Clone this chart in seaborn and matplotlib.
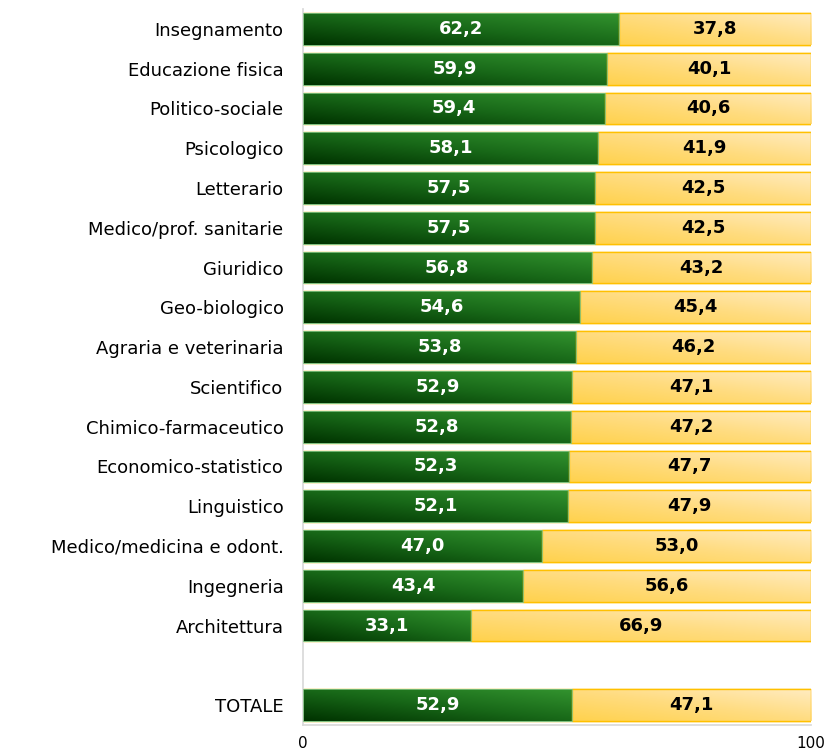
import numpy as np
import pandas as pd
import matplotlib
matplotlib.use("Agg")
import matplotlib.pyplot as plt
import seaborn as sns
from matplotlib.colors import LinearSegmentedColormap

categories = ["Insegnamento", "Educazione fisica", "Politico-sociale", "Psicologico",
              "Letterario", "Medico/prof. sanitarie", "Giuridico", "Geo-biologico",
              "Agraria e veterinaria", "Scientifico", "Chimico-farmaceutico",
              "Economico-statistico", "Linguistico", "Medico/medicina e odont.",
              "Ingegneria", "Architettura", " ", "TOTALE"]
green_vals = [62.2, 59.9, 59.4, 58.1, 57.5, 57.5, 56.8, 54.6, 53.8, 52.9, 52.8,
              52.3, 52.1, 47.0, 43.4, 33.1, np.nan, 52.9]
yellow_vals = [37.8, 40.1, 40.6, 41.9, 42.5, 42.5, 43.2, 45.4, 46.2, 47.1, 47.2,
               47.7, 47.9, 53.0, 56.6, 66.9, np.nan, 47.1]
x_ticks = [0, 100]

df = pd.DataFrame({"cat": categories, "green": green_vals, "yellow": yellow_vals})
df["total"] = df["green"] + df["yellow"]

sns.set_theme(style="white")
plt.rcParams["font.family"] = ["DejaVu Sans"]

fig = plt.figure(figsize=(8.3, 7.53), dpi=100)
ax = fig.add_axes([303/830, 1-725/753, (811-303)/830, (725-9)/753])

sns.barplot(data=df, y="cat", x="total", order=categories, color="#ffd966",
            width=0.8, ax=ax, orient="h", edgecolor="#ffc000", linewidth=1.0)
n_y = len(ax.patches)
sns.barplot(data=df, y="cat", x="green", order=categories, color="#1e6b1e",
            width=0.8, ax=ax, orient="h", edgecolor="#8fcc8f", linewidth=0.8)

green_cmap = LinearSegmentedColormap.from_list("g", ["#003300", "#186818", "#32922e"])
yellow_cmap = LinearSegmentedColormap.from_list("y", ["#ffd24e", "#ffdc80", "#ffebbf"])

def diag_grad(nx=60, ny=20):
    xx, yy = np.meshgrid(np.linspace(0, 1, nx), np.linspace(0, 1, ny))
    return 0.5 * xx + 0.5 * (1 - yy)

patches = list(ax.patches)
yel_patches = patches[:n_y]
grn_patches = patches[n_y:]
for i, (py, pg) in enumerate(zip(yel_patches, grn_patches)):
    w = py.get_width()
    if not np.isfinite(w) or w == 0:
        continue
    y0 = py.get_y(); h = py.get_height()
    gw = pg.get_width()
    im = ax.imshow(diag_grad(), cmap=yellow_cmap, aspect="auto",
                   extent=(gw, w, y0 + h, y0), origin="upper", zorder=py.get_zorder() + 0.1,
                   interpolation="bilinear")
    im.set_clip_path(py)
    im2 = ax.imshow(diag_grad(), cmap=green_cmap, aspect="auto",
                    extent=(0, gw, y0 + h, y0), origin="upper", zorder=pg.get_zorder() + 0.1,
                    interpolation="bilinear")
    im2.set_clip_path(pg)

for i, (py, pg) in enumerate(zip(yel_patches, grn_patches)):
    w = py.get_width()
    if not np.isfinite(w) or w == 0:
        continue
    y0 = py.get_y(); h = py.get_height()
    gw = pg.get_width()
    ax.add_patch(plt.Rectangle((gw, y0), w - gw, h, fill=False, edgecolor="#ffc000",
                               linewidth=1.0, zorder=5))
    ax.add_patch(plt.Rectangle((0, y0), gw, h, fill=False, edgecolor="#7fc07f",
                               linewidth=0.6, zorder=5))

for i, row in df.iterrows():
    if not np.isfinite(row["green"]):
        continue
    ax.text(row["green"] / 2, i, f"{row['green']:.1f}".replace(".", ","),
            ha="center", va="center", color="white", fontsize=13, fontweight="bold", zorder=6)
    ax.text(row["green"] + row["yellow"] / 2, i, f"{row['yellow']:.1f}".replace(".", ","),
            ha="center", va="center", color="black", fontsize=13, fontweight="bold", zorder=6)

ax.set_xlim(0, 100)
ax.set_ylim(len(categories) - 0.5, -0.5)
ax.set_xticks(x_ticks)
ax.set_xticklabels([str(t) for t in x_ticks], fontsize=11, color="black")
ax.tick_params(axis="x", length=0, pad=8, labelcolor="black")
ax.tick_params(axis="y", length=0, pad=14, labelsize=13, labelcolor="black")
ax.set_xlabel("")
ax.set_ylabel("")
for s in ["top", "right"]:
    ax.spines[s].set_visible(False)
ax.spines["left"].set_color("#d9d9d9")
ax.spines["bottom"].set_color("#d9d9d9")

fig.savefig("out.png", dpi=100)
